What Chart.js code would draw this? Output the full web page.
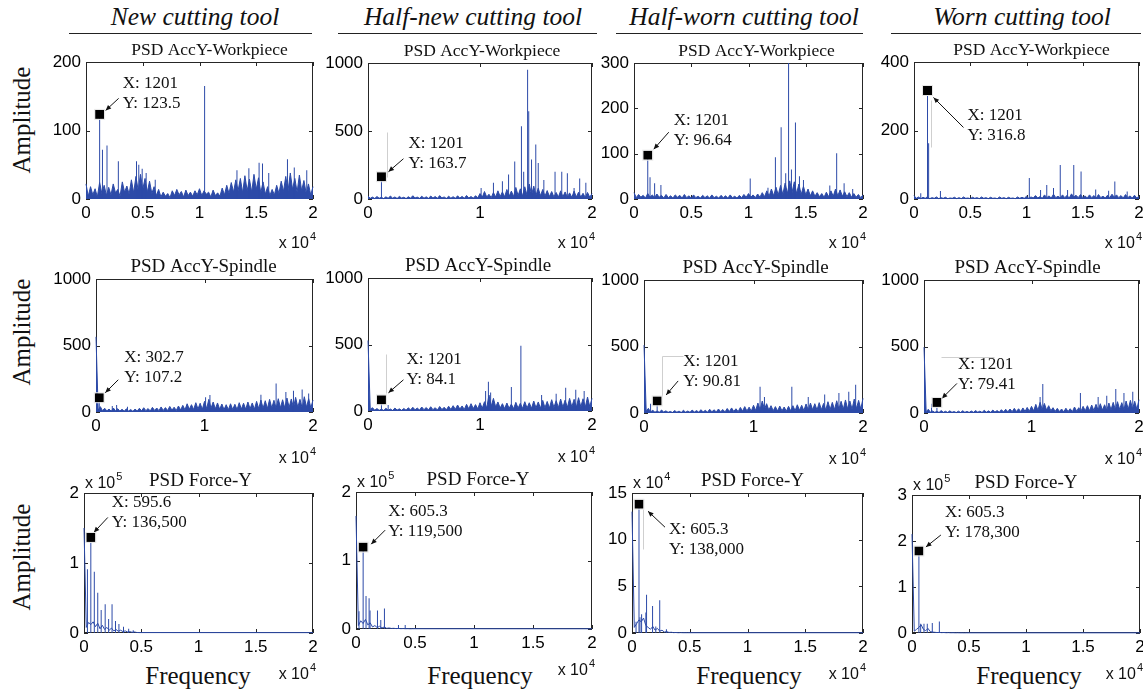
<!DOCTYPE html>
<html>
<head>
<meta charset="utf-8">
<script src="https://cdn.jsdelivr.net/npm/chart.js@4.4.0/dist/chart.umd.min.js"></script>
<style>
  html, body { margin: 0; padding: 0; background: #fff; }
  #fig { position: relative; width: 1143px; height: 692px; overflow: hidden; background: #fff; }
  #fig canvas { position: absolute; }
  .head { position: absolute; top: 4px; font: italic 25.5px 'Liberation Serif', serif; line-height: 25px;
          transform: translateX(-50%); white-space: nowrap; color: #111; }
  .rule { position: absolute; top: 33px; height: 0; border-top: 1px solid #222; }
  .ylab { position: absolute; font: 25px 'Liberation Serif', serif; line-height: 25px; color: #111;
          transform: translate(-50%, -50%) rotate(-90deg); white-space: nowrap; }
  .xlab { position: absolute; top: 663px; font: 25px 'Liberation Serif', serif; line-height: 25px; color: #111;
          transform: translateX(-50%); white-space: nowrap; }
</style>
</head>
<body>
<div id="fig"></div>
<script>
// ═══════════════════════════════════════════════════════════
// DATA — PSD spectra (rows 1-2: samples evenly spread over 0..20 kHz)
// ═══════════════════════════════════════════════════════════
const toolStates = ['New cutting tool', 'Half-new cutting tool', 'Half-worn cutting tool', 'Worn cutting tool'];
const rowTitles = ['PSD AccY-Workpiece', 'PSD AccY-Spindle', 'PSD Force-Y'];

const xTicksHalf = [0, 5000, 10000, 15000, 20000];
const xTicksWhole = [0, 10000, 20000];
const yTicks200 = [0, 100, 200];
const yTicks300 = [0, 100, 200, 300];
const yTicks400 = [0, 200, 400];
const yTicks1000 = [0, 500, 1000];
const yTicks2e5 = [0, 100000, 200000];
const yTicks15e4 = [0, 50000, 100000, 150000];
const yTicks3e5 = [0, 100000, 200000, 300000];

// AccY-Workpiece
const r1c1Noise = [
  22, 4, 18, 6, 15, 3, 24, 8, 20, 5,
  17, 6, 22, 9, 14, 4, 25, 10, 19, 7,
  28, 9, 33, 12, 36, 14, 30, 10, 26, 8,
  18, 5, 14, 3, 10, 4, 8, 2, 12, 5,
  14, 6, 11, 3, 13, 5, 10, 4, 12, 6,
  15, 5, 12, 7, 10, 3, 13, 5, 9, 4,
  16, 6, 20, 8, 24, 10, 28, 12, 30, 9,
  34, 12, 29, 10, 36, 14, 31, 9, 25, 7,
  18, 5, 14, 6, 20, 8, 26, 11, 33, 12,
  38, 14, 30, 10, 35, 12, 27, 8, 22, 6, 18
];
const r1c1Peaks = [[1201, 123.5], [1450, 72], [1850, 78], [2850, 55], [4450, 55], [4650, 50], [4950, 44],
  [5300, 38], [6100, 28], [10450, 165], [13300, 42], [14350, 45], [15250, 53], [15550, 52], [16100, 38],
  [17750, 58], [18350, 46], [19450, 42]];

const r1c2Noise = [
  20, 5, 14, 4, 18, 6, 12, 3, 16, 5,
  22, 6, 15, 4, 19, 7, 13, 3, 17, 6,
  24, 8, 14, 5, 20, 6, 16, 4, 22, 7,
  18, 5, 25, 8, 15, 4, 21, 6, 17, 5,
  23, 7, 19, 5, 26, 8, 18, 6, 24, 9,
  40, 12, 55, 15, 35, 10, 48, 14, 60, 18,
  52, 16, 70, 20, 58, 18, 85, 25, 75, 22,
  90, 28, 110, 30, 95, 26, 80, 24, 70, 20,
  62, 18, 55, 15, 48, 14, 60, 16, 52, 13,
  45, 12, 58, 15, 50, 14, 42, 11, 48, 13, 40
];
const r1c2Peaks = [[1201, 163.7], [10100, 80], [11200, 120], [12000, 130], [12550, 180], [13100, 275],
  [13700, 535], [13900, 200], [14250, 950], [14350, 645], [14600, 290], [14980, 400], [15200, 265],
  [15700, 140], [16700, 200], [17300, 200], [17800, 190], [18400, 80], [18900, 150], [19450, 120]];

const r1c3Noise = [
  14, 3, 10, 4, 8, 2, 12, 4, 9, 3,
  11, 4, 8, 2, 10, 3, 7, 2, 9, 4,
  8, 2, 10, 3, 7, 2, 9, 3, 6, 2,
  8, 3, 7, 2, 9, 3, 6, 2, 8, 3,
  7, 2, 9, 3, 6, 2, 8, 3, 10, 4,
  12, 4, 9, 3, 11, 4, 14, 5, 18, 6,
  22, 7, 26, 9, 30, 10, 35, 12, 40, 14,
  38, 12, 33, 10, 28, 9, 22, 7, 18, 6,
  14, 5, 12, 4, 15, 5, 18, 6, 22, 7,
  20, 6, 16, 5, 14, 4, 12, 4, 10, 3, 9
];
const r1c3Peaks = [[1201, 96.64], [1400, 48], [1800, 35], [2350, 31], [10150, 45], [11700, 25], [12350, 92],
  [12850, 158], [13250, 57], [13500, 300], [13750, 65], [14100, 169], [14450, 50], [14800, 42], [17100, 30],
  [17700, 101], [18350, 35], [19100, 22]];

const r1c4Noise = [
  10, 2, 6, 1, 5, 2, 7, 1, 4, 2,
  6, 1, 4, 2, 5, 1, 3, 2, 5, 1,
  4, 1, 6, 2, 3, 1, 5, 2, 4, 1,
  6, 2, 4, 1, 5, 2, 3, 1, 6, 2,
  4, 1, 5, 2, 3, 1, 6, 2, 5, 2,
  8, 2, 6, 3, 10, 3, 7, 2, 12, 4,
  9, 3, 14, 4, 8, 3, 12, 4, 10, 3,
  15, 5, 11, 4, 13, 4, 9, 3, 12, 4,
  10, 3, 13, 4, 8, 3, 11, 4, 14, 5,
  12, 4, 10, 3, 13, 4, 9, 3, 11, 3, 8
];
const r1c4Peaks = [[600, 17], [1201, 316.8], [1300, 163], [2350, 23], [10250, 61], [11250, 26], [11800, 41],
  [12400, 32], [13000, 99], [13650, 26], [14200, 99], [14850, 80], [16150, 28], [17300, 24], [17850, 51],
  [18950, 22]];

// AccY-Spindle (first sample is the DC line)
const r2c1Noise = [
  565, 15, 40, 10, 28, 8, 22, 6, 30, 9,
  25, 7, 20, 6, 24, 8, 18, 5, 22, 7,
  28, 9, 32, 10, 26, 8, 35, 12, 30, 10,
  38, 12, 33, 11, 42, 14, 36, 12, 45, 15,
  50, 16, 62, 20, 55, 18, 70, 22, 66, 20,
  80, 25, 95, 28, 75, 24, 68, 20, 60, 18,
  55, 17, 62, 19, 58, 18, 70, 22, 66, 20,
  75, 24, 68, 21, 80, 25, 90, 28, 85, 26,
  95, 30, 88, 28, 100, 32, 92, 30, 105, 34,
  98, 32, 110, 35, 95, 30, 115, 36, 100, 32, 90
];
const r2c1Peaks = [[302.7, 107.2], [1500, 45], [1900, 52], [2900, 40], [10100, 110], [10500, 128],
  [15200, 130], [16600, 215], [17500, 150], [18200, 160], [19000, 170], [19600, 140]];

const r2c2Noise = [
  530, 12, 25, 6, 18, 5, 14, 4, 20, 6,
  15, 4, 22, 7, 16, 5, 19, 6, 24, 8,
  28, 9, 22, 7, 30, 10, 26, 8, 32, 10,
  25, 8, 34, 11, 28, 9, 36, 12, 40, 13,
  45, 15, 38, 12, 50, 16, 55, 18, 48, 16,
  62, 20, 70, 22, 120, 35, 95, 30, 68, 22,
  55, 18, 60, 20, 52, 17, 65, 21, 58, 19,
  70, 22, 62, 20, 75, 24, 68, 21, 80, 25,
  72, 23, 85, 27, 78, 25, 90, 28, 82, 26,
  95, 30, 88, 28, 100, 32, 92, 29, 105, 33, 95
];
const r2c2Peaks = [[1201, 84.1], [1800, 45], [10500, 150], [10750, 220], [10950, 140], [12800, 180],
  [13650, 490], [15500, 120], [16800, 130], [17650, 175], [18550, 160], [19300, 150]];

const r2c3Noise = [
  510, 14, 35, 8, 20, 6, 15, 5, 22, 7,
  16, 5, 12, 4, 18, 6, 14, 4, 20, 6,
  15, 5, 22, 7, 18, 6, 25, 8, 20, 6,
  28, 9, 24, 8, 30, 10, 26, 8, 34, 11,
  38, 12, 32, 10, 42, 14, 48, 15, 44, 14,
  58, 18, 75, 24, 90, 28, 70, 22, 55, 17,
  48, 15, 52, 16, 45, 14, 50, 16, 55, 17,
  62, 20, 58, 18, 68, 21, 75, 24, 70, 22,
  78, 25, 72, 23, 85, 27, 80, 25, 92, 29,
  88, 28, 98, 31, 90, 29, 105, 33, 95, 30, 110
];
const r2c3Peaks = [[600, 70], [1201, 90.81], [10600, 198], [11000, 120], [13500, 198], [15000, 120],
  [16500, 140], [17800, 150], [18700, 160], [19330, 213]];

const r2c4Noise = [
  495, 10, 28, 6, 15, 5, 12, 4, 18, 5,
  13, 4, 16, 5, 11, 3, 14, 4, 17, 5,
  12, 4, 15, 5, 18, 6, 14, 4, 20, 6,
  16, 5, 22, 7, 18, 6, 25, 8, 28, 9,
  30, 10, 35, 11, 32, 10, 38, 12, 42, 13,
  50, 16, 65, 20, 80, 25, 72, 22, 55, 17,
  40, 12, 35, 11, 30, 9, 36, 11, 32, 10,
  45, 14, 40, 12, 50, 16, 55, 17, 60, 19,
  65, 20, 70, 22, 62, 19, 75, 24, 80, 25,
  85, 27, 78, 25, 90, 28, 95, 30, 88, 28, 100
];
const r2c4Peaks = [[700, 70], [1201, 79.41], [10800, 120], [11050, 218], [14550, 150], [16200, 120],
  [17000, 130], [17840, 180], [18600, 150], [19420, 160]];

// Force-Y: samples every 200 Hz up to 4.8 kHz, flat tail to 20 kHz
const FORCE_STEP = 200;
const forceTails = [500, 300, 300, 400];
const r3c1Noise = [150000, 8000, 15000, 12000, 16000, 9000, 14000, 6000, 11000, 5000, 8000, 4000, 7000,
  3000, 5000, 2500, 4000, 2000, 3000, 1500, 2000, 1000, 1500, 800, 600];
const r3c1Peaks = [[300, 91000], [595.6, 136500], [900, 87600], [1200, 57600], [1500, 33000], [1850, 41000],
  [2150, 20000], [2450, 41000], [2750, 17000], [3050, 13000], [3450, 9000], [3900, 6000], [4300, 4000]];
const r3c2Noise = [165000, 5000, 12000, 8000, 14000, 6000, 9000, 3000, 5000, 2000, 4000, 1500, 3000,
  1000, 1500, 800, 1000, 600, 800, 500, 600, 400, 500, 300, 400];
const r3c2Peaks = [[255, 26000], [605.3, 119500], [850, 48000], [1110, 45000], [1190, 27000], [1820, 27000],
  [2100, 13000], [2410, 30000], [3600, 6000], [4170, 6000]];
const r3c3Noise = [130000, 6000, 10000, 14000, 12000, 16000, 8000, 6000, 4000, 7000, 3000, 5000, 2000,
  3000, 1000, 1500, 600, 800, 400, 500, 300, 400, 300, 300, 300];
const r3c3Peaks = [[350, 12000], [605.3, 138000], [690, 17000], [830, 20000], [1200, 22000], [1260, 41000],
  [1780, 29000], [2060, 7000], [2400, 35000], [2980, 4000]];
const r3c4Noise = [215000, 4000, 8000, 12000, 18000, 8000, 5000, 10000, 3000, 2000, 1500, 1000, 1200,
  800, 1000, 600, 800, 500, 600, 400, 500, 400, 400, 300, 400];
const r3c4Peaks = [[605.3, 178300], [760, 20000], [1050, 20000], [1340, 20000], [1780, 22000], [2400, 25000]];

// Data tips [X, Y]
const dataTips = [
  [1201, 123.5], [1201, 163.7], [1201, 96.64], [1201, 316.8],
  [302.7, 107.2], [1201, 84.1], [1201, 90.81], [1201, 79.41],
  [595.6, 136500], [605.3, 119500], [605.3, 138000], [605.3, 178300]
];

// ═══════════════════════════════════════════════════════════
// LAYOUT
// ═══════════════════════════════════════════════════════════
const BLUE = '#2c4aa8';
const INK = '#111';
const SERIF = "'Liberation Serif', 'Times New Roman', serif";
const SANS = "'Liberation Sans', Arial, sans-serif";
const PAD = { l: 50, t: 36, r: 14, b: 56 };
const TICK_SIZE = 17;
const titleSize = [17.5, 19, 19];
const xExpDrop = [43, 45, 40];

// plot rectangles [left, top, right, bottom]
const plotBoxes = [
  [86, 62, 313, 199], [368, 63, 592, 199], [634, 63, 863, 199], [914, 62, 1139, 199],
  [96, 279, 313, 412], [368, 278, 592, 411], [644, 280, 863, 413], [924, 280, 1139, 413],
  [84, 493, 313, 633], [356, 492, 592, 629], [632, 493, 863, 633], [912, 495, 1140, 633]
];
const titleShift = [10, 2, 8, 5, -1, -2, 2, -4, 2, 4, 5, 0];

// tip text / arrow offsets from the marker, plus faint leftover datatip strokes
const tipLayouts = [
  { tx: 23, ty: -31, a: [19, -16, 6, -4], ghost: [] },
  { tx: 27, ty: -33, a: [22, -18, 7, -5], ghost: [[6, -45, 6, 0]] },
  { tx: 26, ty: -35, a: [21, -23, 6, -6], ghost: [] },
  { tx: 40, ty: 25, a: [36, 37, 6, 7], ghost: [[3, 10, 3, 57]] },
  { tx: 25, ty: -40, a: [19, -18, 6, -5], ghost: [] },
  { tx: 25, ty: -40, a: [22, -20, 7, -7], ghost: [[5, -46, 5, -7]] },
  { tx: 26, ty: -39, a: [21, -20, 9, -6], ghost: [[5, -45, 5, -5], [5, -45, 26, -45]] },
  { tx: 21, ty: -38, a: [20, -19, 5, -4], ghost: [[4, -45, 57, -45]] },
  { tx: 21, ty: -35, a: [17, -20, 3, -5], ghost: [] },
  { tx: 25, ty: -36, a: [22, -17, 8, -3], ghost: [] },
  { tx: 30, ty: 25, a: [26, 23, 9, 7], ghost: [[4, 5, 4, 45]] },
  { tx: 26, ty: -38, a: [22, -16, 7, -4], ghost: [] }
];

const noiseSets = [r1c1Noise, r1c2Noise, r1c3Noise, r1c4Noise, r2c1Noise, r2c2Noise, r2c3Noise, r2c4Noise,
  r3c1Noise, r3c2Noise, r3c3Noise, r3c4Noise];
const peakSets = [r1c1Peaks, r1c2Peaks, r1c3Peaks, r1c4Peaks, r2c1Peaks, r2c2Peaks, r2c3Peaks, r2c4Peaks,
  r3c1Peaks, r3c2Peaks, r3c3Peaks, r3c4Peaks];
const yTickSets = [yTicks200, yTicks1000, yTicks300, yTicks400, yTicks1000, yTicks1000, yTicks1000, yTicks1000,
  yTicks2e5, yTicks2e5, yTicks15e4, yTicks3e5];
const xTickSets = [xTicksHalf, xTicksWhole, xTicksHalf, xTicksHalf, xTicksWhole, xTicksWhole, xTicksWhole,
  xTicksWhole, xTicksHalf, xTicksHalf, xTicksHalf, xTicksHalf];
const yExponents = [0, 0, 0, 0, 0, 0, 0, 0, 5, 5, 4, 5];

// ═══════════════════════════════════════════════════════════
// HELPERS
// ═══════════════════════════════════════════════════════════
function noisePoints(i) {
  const vals = noiseSets[i];
  if (i < 8) return vals.map((v, k) => ({ x: k * 20000 / (vals.length - 1), y: v }));
  const pts = vals.map((v, k) => ({ x: k * FORCE_STEP, y: v }));
  pts.push({ x: 20000, y: forceTails[i - 8] });
  return pts;
}

// datatip numbers: thousands separators only on the large force values
function fmtTip(v) {
  return v >= 10000 ? v.toLocaleString('en-US') : String(v);
}

function drawPower(ctx, x, y, exp, align) {
  ctx.font = '16px ' + SANS;
  const w1 = ctx.measureText('x 10').width;
  ctx.font = '11px ' + SANS;
  const w2 = ctx.measureText(String(exp)).width;
  const x0 = align === 'right' ? x - w1 - w2 - 1 : x;
  ctx.textAlign = 'left';
  ctx.textBaseline = 'alphabetic';
  ctx.font = '16px ' + SANS;
  ctx.fillText('x 10', x0, y);
  ctx.font = '11px ' + SANS;
  ctx.fillText(String(exp), x0 + w1 + 1, y - 8);
}

function arrow(ctx, x0, y0, x1, y1) {
  ctx.beginPath();
  ctx.moveTo(x0, y0);
  ctx.lineTo(x1, y1);
  ctx.stroke();
  const a = Math.atan2(y1 - y0, x1 - x0), s = 6;
  ctx.beginPath();
  ctx.moveTo(x1, y1);
  ctx.lineTo(x1 - s * Math.cos(a - 0.42), y1 - s * Math.sin(a - 0.42));
  ctx.lineTo(x1 - s * Math.cos(a + 0.42), y1 - s * Math.sin(a + 0.42));
  ctx.closePath();
  ctx.fill();
}

// frame, inward ticks, title, exponents and the data tip
function panelPlugin(i) {
  const row = Math.floor(i / 4);
  return {
    id: 'panelFrame' + i,
    beforeDatasetsDraw(chart) {
      const { ctx, chartArea: a, scales: { x, y } } = chart;
      ctx.save();
      ctx.strokeStyle = '#262626';
      ctx.lineWidth = 1;
      ctx.strokeRect(a.left + 0.5, a.top + 0.5, a.right - a.left - 1, a.bottom - a.top - 1);
      ctx.beginPath();
      xTickSets[i].forEach(v => {
        const px = Math.round(x.getPixelForValue(v)) + 0.5;
        ctx.moveTo(px, a.bottom); ctx.lineTo(px, a.bottom - 4);
        ctx.moveTo(px, a.top); ctx.lineTo(px, a.top + 4);
      });
      yTickSets[i].forEach(v => {
        const py = Math.round(y.getPixelForValue(v)) + 0.5;
        ctx.moveTo(a.left, py); ctx.lineTo(a.left + 4, py);
        ctx.moveTo(a.right, py); ctx.lineTo(a.right - 4, py);
      });
      ctx.stroke();
      ctx.restore();
    },
    afterDatasetsDraw(chart) {
      const { ctx, scales: { x, y } } = chart;
      const tip = dataTips[i], lay = tipLayouts[i];
      const mx = x.getPixelForValue(tip[0]), my = y.getPixelForValue(tip[1]);
      ctx.save();
      ctx.strokeStyle = '#cfcfcf';
      ctx.lineWidth = 1;
      lay.ghost.forEach(g => {
        ctx.beginPath();
        ctx.moveTo(Math.round(mx + g[0]) + 0.5, Math.round(my + g[1]) + 0.5);
        ctx.lineTo(Math.round(mx + g[2]) + 0.5, Math.round(my + g[3]) + 0.5);
        ctx.stroke();
      });
      ctx.strokeStyle = INK;
      ctx.fillStyle = INK;
      arrow(ctx, mx + lay.a[0], my + lay.a[1], mx + lay.a[2], my + lay.a[3]);
      ctx.fillStyle = '#000';
      ctx.fillRect(mx - 4.5, my - 4.5, 9, 9);
      ctx.strokeStyle = '#e8e8e8';
      ctx.strokeRect(mx - 5, my - 5, 10, 10);
      ctx.fillStyle = INK;
      ctx.font = '17px ' + SERIF;
      ctx.textAlign = 'left';
      ctx.textBaseline = 'middle';
      ctx.fillText('X: ' + fmtTip(tip[0]), mx + lay.tx, my + lay.ty);
      ctx.fillText('Y: ' + fmtTip(tip[1]), mx + lay.tx, my + lay.ty + 20);
      ctx.restore();
    },
    afterDraw(chart) {
      const { ctx, chartArea: a } = chart;
      ctx.save();
      ctx.fillStyle = INK;
      ctx.font = titleSize[row] + 'px ' + SERIF;
      ctx.textAlign = 'center';
      ctx.textBaseline = 'alphabetic';
      ctx.fillText(rowTitles[row], (a.left + a.right) / 2 + titleShift[i], a.top - 7);
      drawPower(ctx, a.right + 3, a.bottom + xExpDrop[row] + 6, 4, 'right');
      if (yExponents[i]) drawPower(ctx, a.left + 1, a.top - 5, yExponents[i], 'left');
      ctx.restore();
    }
  };
}

// ═══════════════════════════════════════════════════════════
// BUILD
// ═══════════════════════════════════════════════════════════
const fig = document.getElementById('fig');

toolStates.forEach((name, c) => {
  const rules = [[69, 312], [338, 597], [616, 863], [891, 1141]];
  const centers = [195, 473, 744, 1022];
  const h = document.createElement('div');
  h.className = 'head';
  h.style.left = centers[c] + 'px';
  h.textContent = name;
  fig.appendChild(h);
  const r = document.createElement('div');
  r.className = 'rule';
  r.style.left = rules[c][0] + 'px';
  r.style.width = (rules[c][1] - rules[c][0]) + 'px';
  fig.appendChild(r);
  const f = document.createElement('div');
  f.className = 'xlab';
  f.style.left = [198, 480, 749, 1029][c] + 'px';
  f.textContent = 'Frequency';
  fig.appendChild(f);
});
[120, 332, 557].forEach(cy => {
  const d = document.createElement('div');
  d.className = 'ylab';
  d.style.left = '21px';
  d.style.top = cy + 'px';
  d.textContent = 'Amplitude';
  fig.appendChild(d);
});

plotBoxes.forEach((box, i) => {
  const [L, T, R, B] = box;
  const w = R - L + PAD.l + PAD.r, h = B - T + PAD.t + PAD.b;
  const cv = document.createElement('canvas');
  cv.width = w; cv.height = h;
  cv.style.left = (L - PAD.l) + 'px';
  cv.style.top = (T - PAD.t) + 'px';
  cv.style.width = w + 'px';
  cv.style.height = h + 'px';
  fig.appendChild(cv);

  const yTicks = yTickSets[i];
  const yDiv = Math.pow(10, yExponents[i]);
  const dense = i < 8;  // acceleration spectra: solid noise floor
  new Chart(cv, {
    type: 'line',
    data: {
      datasets: [
        {
          type: 'line',
          data: noisePoints(i),
          borderColor: BLUE,
          backgroundColor: BLUE,
          borderWidth: 1,
          pointRadius: 0,
          tension: 0,
          fill: dense ? 'origin' : false,
          clip: 2,
          order: 2
        },
        {
          type: 'bar',
          data: peakSets[i].map(p => ({ x: p[0], y: p[1] })),
          backgroundColor: BLUE,
          barThickness: 1,
          inflateAmount: 0,
          grouped: false,
          borderWidth: 0,
          order: 1
        }
      ]
    },
    options: {
      responsive: false,
      animation: false,
      events: [],
      layout: { padding: { left: 0, top: PAD.t, right: PAD.r, bottom: 0 } },
      plugins: { legend: { display: false }, tooltip: { enabled: false } },
      scales: {
        x: {
          type: 'linear',
          min: 0,
          max: 20000,
          offset: false,
          grid: { display: false, drawTicks: false },
          border: { display: false },
          ticks: {
            font: { family: SANS, size: TICK_SIZE },
            color: '#000',
            padding: 4,
            maxRotation: 0,
            autoSkip: false,
            callback: v => String(v / 1e4)
          },
          afterBuildTicks: s => { s.ticks = xTickSets[i].map(v => ({ value: v })); },
          afterFit: s => { s.height = PAD.b; }
        },
        y: {
          type: 'linear',
          min: 0,
          max: yTicks[yTicks.length - 1],
          grid: { display: false, drawTicks: false },
          border: { display: false },
          ticks: {
            font: { family: SANS, size: TICK_SIZE },
            color: '#000',
            padding: 5,
            callback: v => String(v / yDiv)
          },
          afterBuildTicks: s => { s.ticks = yTicks.map(v => ({ value: v })); },
          afterFit: s => { s.width = PAD.l; }
        }
      }
    },
    plugins: [panelPlugin(i)]
  });
});
</script>
</body>
</html>
